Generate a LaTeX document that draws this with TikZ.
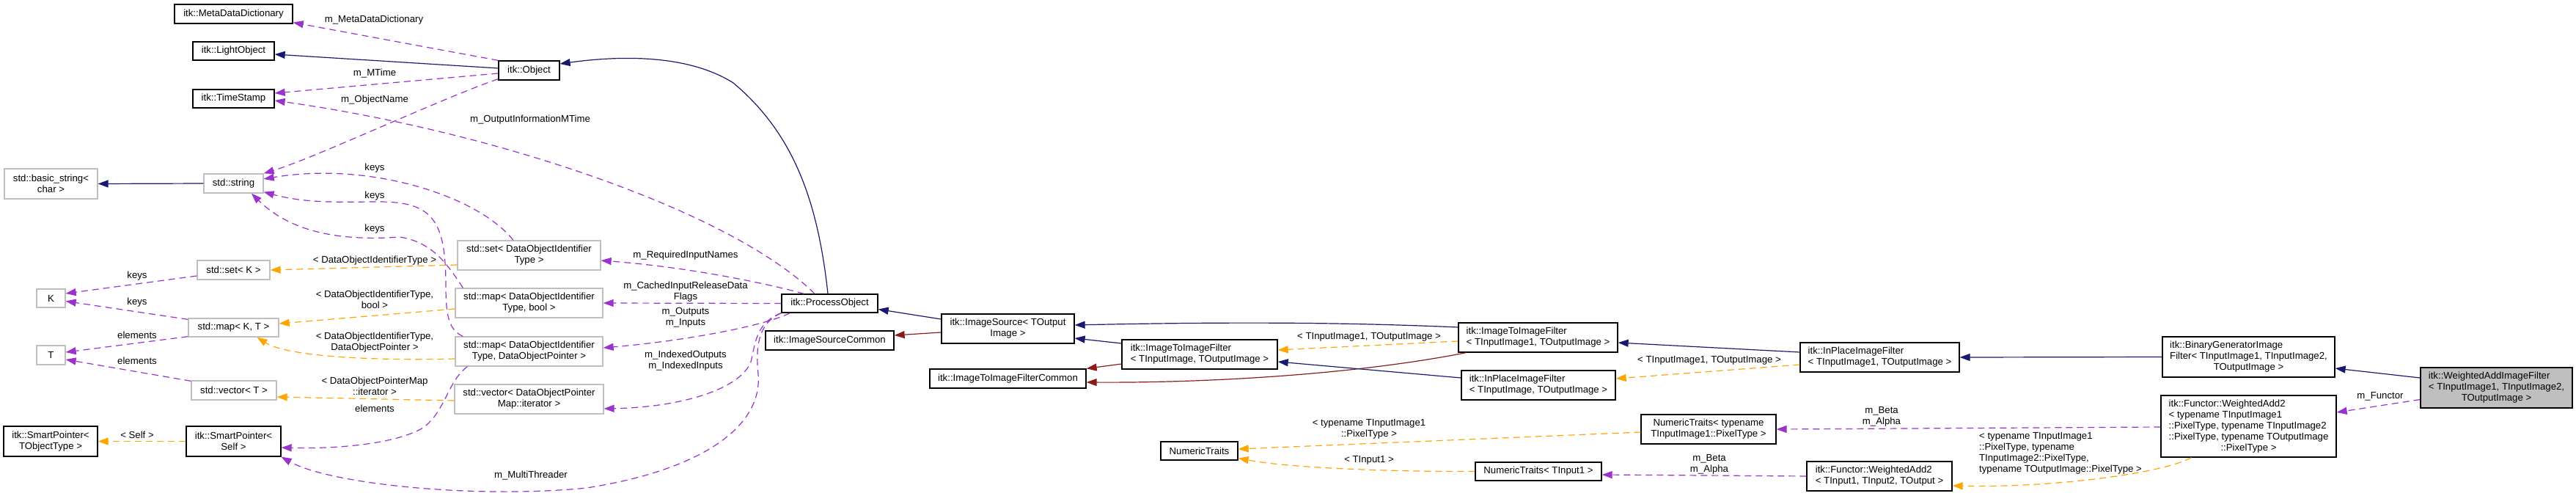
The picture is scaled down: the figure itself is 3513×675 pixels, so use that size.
\documentclass[tikz,border=0pt]{standalone}
\usepackage{fontspec}
\setmainfont{Liberation Sans}
\usetikzlibrary{arrows.meta}
\definecolor{navy}{HTML}{191970}
\definecolor{orch}{HTML}{9A32CD}
\definecolor{orng}{HTML}{FFA500}
\definecolor{fbrick}{HTML}{8B1A1A}
\definecolor{grayb}{HTML}{BFBFBF}
\newcommand{\dgfont}{\fontsize{6.6}{7.5}\selectfont}
\newcommand{\lc}[1]{\multicolumn{1}{@{}c@{}}{#1}}
\tikzset{
  box/.style={draw=black, line width=0.65pt, fill=white, inner sep=0pt, font=\dgfont, align=center},
  gbox/.style={box, draw=grayb},
  lbox/.style={box, align=left},
  tip/.style={-{Triangle[length=7pt,width=5pt]}},
  inh/.style={draw=navy, line width=0.6pt, tip},
  prv/.style={draw=fbrick, line width=0.6pt, tip},
  mem/.style={draw=orch, line width=0.6pt, dash pattern=on 4.5pt off 3pt, tip},
  tpl/.style={draw=orng, line width=0.6pt, dash pattern=on 4.5pt off 3pt, tip},
  lbl/.style={font=\dgfont, inner sep=0pt, align=center}
}
\begin{document}
\begin{tikzpicture}[x=0.5pt,y=-0.5pt]
\useasboundingbox (0,0) rectangle (3513,675);
% ---------- nodes ----------
\node[box, minimum width=80.5pt, minimum height=13pt] (mdd) at (318.5,19) {itk::MetaDataDictionary};
\node[box, minimum width=55.5pt, minimum height=12.5pt] (lobj) at (318.5,69.5) {itk::LightObject};
\node[box, minimum width=55.5pt, minimum height=12.5pt] (ts) at (318.5,134.5) {itk::TimeStamp};
\node[box, minimum width=41.5pt, minimum height=13pt] (obj) at (721.5,96) {itk::Object};
\node[gbox, minimum width=63.5pt, minimum height=20.5pt] (bstr) at (69.5,250.5) {std::basic\_string\textless\\char \textgreater};
\node[gbox, minimum width=40.5pt, minimum height=13pt] (str) at (318.5,250) {std::string};
\node[gbox, minimum width=49.5pt, minimum height=13pt] (setK) at (318.5,368) {std::set\textless{} K \textgreater};
\node[gbox, minimum width=19.5pt, minimum height=12.5pt] (K) at (69.5,406.5) {K};
\node[gbox, minimum width=61.5pt, minimum height=12.5pt] (mapKT) at (318.5,446.5) {std::map\textless{} K, T \textgreater};
\node[gbox, minimum width=19.5pt, minimum height=13pt] (T) at (69.5,484) {T};
\node[gbox, minimum width=58pt, minimum height=13pt] (vecT) at (319,532) {std::vector\textless{} T \textgreater};
\node[box, minimum width=64pt, minimum height=20.5pt] (spT) at (69,601.5) {itk::SmartPointer\textless\\TObjectType \textgreater};
\node[box, minimum width=64.5pt, minimum height=20.5pt] (spS) at (318.5,601.5) {itk::SmartPointer\textless\\Self \textgreater};
\node[gbox, minimum width=97.5pt, minimum height=20pt] (setD) at (721.5,348) {std::set\textless{} DataObjectIdentifier\\Type \textgreater};
\node[gbox, minimum width=100.5pt, minimum height=20pt] (mapDb) at (721.5,413) {std::map\textless{} DataObjectIdentifier\\Type, bool \textgreater};
\node[gbox, minimum width=100.5pt, minimum height=20pt] (mapDP) at (721.5,479) {std::map\textless{} DataObjectIdentifier\\Type, DataObjectPointer \textgreater};
\node[gbox, minimum width=101.5pt, minimum height=20pt] (vecD) at (721.5,544) {std::vector\textless{} DataObjectPointer\\Map::iterator \textgreater};
\node[box, minimum width=65.5pt, minimum height=12.5pt] (po) at (1131.5,413.5) {itk::ProcessObject};
\node[box, minimum width=87.5pt, minimum height=13pt] (isc) at (1131.5,464) {itk::ImageSourceCommon};
\node[box, minimum width=90.5pt, minimum height=20pt] (is) at (1374.5,448) {itk::ImageSource\textless{} TOutput\\Image \textgreater};
\node[box, minimum width=106.5pt, minimum height=13pt] (itifc) at (1374.5,516) {itk::ImageToImageFilterCommon};
\node[lbox, minimum width=106pt, minimum height=20pt] (itif) at (1636,483) {itk::ImageToImageFilter\\\textless{} TInputImage, TOutputImage \textgreater};
\node[lbox, minimum width=108.5pt, minimum height=20pt] (itif1) at (2097.5,460) {itk::ImageToImageFilter\\\textless{} TInputImage1, TOutputImage \textgreater};
\node[lbox, minimum width=105pt, minimum height=20pt] (ipf) at (2098,525) {itk::InPlaceImageFilter\\\textless{} TInputImage, TOutputImage \textgreater};
\node[lbox, minimum width=108.5pt, minimum height=20pt] (ipf1) at (2563.5,487) {itk::InPlaceImageFilter\\\textless{} TInputImage1, TOutputImage \textgreater};
\node[box, minimum width=52.5pt, minimum height=12.5pt] (nt) at (1635.5,614.5) {NumericTraits};
\node[box, minimum width=92pt, minimum height=20pt] (ntp) at (2330,585) {NumericTraits\textless{} typename\\TInputImage1::PixelType \textgreater};
\node[box, minimum width=86pt, minimum height=12.5pt] (nti) at (2098,642.5) {NumericTraits\textless{} TInput1 \textgreater};
\node[lbox, minimum width=99pt, minimum height=20pt] (wa2i) at (2563,649) {itk::Functor::WeightedAdd2\\\textless{} TInput1, TInput2, TOutput \textgreater};
\node[box, minimum width=117.5pt, minimum height=27.5pt] (bgif) at (3066.5,486.5) {\begin{tabular}{@{}l@{}}itk::BinaryGeneratorImage\\Filter\textless{} TInputImage1, TInputImage2,\\\lc{TOutputImage \textgreater}\end{tabular}};
\node[box, minimum width=119.5pt, minimum height=42pt] (fwa2) at (3066.5,581) {\begin{tabular}{@{}l@{}}itk::Functor::WeightedAdd2\\\textless{} typename TInputImage1\\::PixelType, typename TInputImage2\\::PixelType, typename TOutputImage\\\lc{::PixelType \textgreater}\end{tabular}};
\node[box, fill=grayb, minimum width=103.5pt, minimum height=27.5pt] (waif) at (3404.5,528.5) {\begin{tabular}{@{}l@{}}itk::WeightedAddImageFilter\\\textless{} TInputImage1, TInputImage2,\\\lc{TOutputImage \textgreater}\end{tabular}};
% ---------- edges: top-left ----------
\draw[mem] (obj.north west) -- ([yshift=1pt]mdd.south east);
\draw[inh] ([yshift=1.5pt]obj.west) -- ([yshift=-2.25pt]lobj.east);
\draw[mem] ([yshift=-2pt]obj.west) -- ([yshift=3.75pt]ts.east);
\draw[mem] ([yshift=1pt]obj.south west) .. controls (600,135) and (430,215) .. (str.north east);
\draw[mem] ([xshift=-10.25pt]po.north) .. controls (1000,290) and (680,180) .. ([yshift=-1.25pt]ts.east);
\draw[inh] ([xshift=-1.25pt]po.north) .. controls (1115,270) and (1080,180) .. (1000,113) .. controls (940,75) and (850,75) .. ([yshift=4.5pt]obj.east);
\draw[inh] (str.west) -- (bstr.east);
\draw[mem] ([xshift=-10.75pt]setD.north) .. controls (650,265) and (500,220) .. ([yshift=3pt]str.east);
\draw[mem] ([xshift=5.5pt]mapDP.north west) .. controls (612,450) and (608,430) .. (608,390) .. controls (608,300) and (590,275) .. (517,275) .. controls (470,275) and (420,278) .. ([yshift=1pt]str.south east);
\draw[mem] ([xshift=5.5pt]mapDb.north west) .. controls (610,360) and (590,330) .. (545,323) .. controls (450,330) and (390,310) .. ([xshift=12.25pt]str.south);
% ---------- std containers ----------
\draw[tpl] ([yshift=-6.5pt]setD.west) -- (setK.east);
\draw[tpl] ([yshift=-4pt]mapDb.west) -- ([yshift=2.75pt]mapKT.east);
\draw[tpl] ([yshift=-5pt]mapDP.west) .. controls (500,492) and (390,485) .. ([xshift=16pt]mapKT.south);
\draw[tpl] ([yshift=-1pt]vecD.west) -- ([yshift=-4.5pt]vecT.east);
\draw[tpl] (spS.west) -- (spT.east);
\draw[mem] ([yshift=-4pt]setK.west) -- ([yshift=3.25pt]K.east);
\draw[mem] ([yshift=-1pt]mapKT.north west) -- ([yshift=-2pt]K.east);
\draw[mem] ([yshift=0.5pt]mapKT.south west) -- ([yshift=2pt]T.east);
\draw[mem] ([yshift=-0.5pt]vecT.north west) -- ([yshift=-3pt]T.east);
\draw[mem] ([xshift=8.5pt]mapDP.south west) .. controls (610,520) and (608,560) .. (577,583) .. controls (540,605) and (460,612) .. ([yshift=-4.25pt]spS.east);
% ---------- ProcessObject members ----------
\draw[mem] ([xshift=15.5pt]po.north west) .. controls (1060,390) and (950,365) .. ([yshift=-3.5pt]setD.east);
\draw[mem] (po.west) -- (mapDb.east);
\draw[mem] ([xshift=6pt]po.south west) .. controls (1040,445) and (930,465) .. ([yshift=2.5pt]mapDP.east);
\draw[mem] (po.south west) .. controls (1030,440) and (1030,470) .. (1024,493) .. controls (1010,530) and (930,555) .. ([yshift=-6.5pt]vecD.east);
\draw[mem] (po.south west) .. controls (1035,440) and (1030,470) .. (1034,510) .. controls (1040,580) and (960,640) .. (800,665) .. controls (650,680) and (450,660) .. (spS.south east);
% ---------- image filter hierarchy ----------
\draw[inh] ([yshift=6.5pt]is.west) -- ([yshift=-4pt]po.east);
\draw[prv] ([yshift=-2.5pt]is.west) -- ([yshift=3.5pt]isc.east);
\draw[inh] ([yshift=7.5pt]itif.west) -- ([yshift=-6.5pt]is.east);
\draw[prv] ([yshift=-6.5pt]itif.west) -- (itifc.north east);
\draw[inh] ([yshift=7pt]itif1.west) .. controls (1850,440) and (1700,438) .. ([yshift=2.5pt]is.east);
\draw[prv] ([xshift=5.5pt]itif1.south west) .. controls (1850,510) and (1650,522) .. ([yshift=-2.5pt]itifc.east);
\draw[tpl] ([yshift=-2.5pt]itif1.west) -- ([yshift=3pt]itif.east);
\draw[inh] ([yshift=5pt]ipf.west) -- ([yshift=-5pt]itif.east);
\draw[inh] ([yshift=3.5pt]ipf1.west) -- ([yshift=-3.5pt]itif1.east);
\draw[tpl] ([yshift=-5pt]ipf1.west) -- ([yshift=4.5pt]ipf.east);
\draw[inh] (bgif.west) -- (ipf1.east);
\draw[inh] ([yshift=6.75pt]waif.west) -- ([yshift=-7.75pt]bgif.east);
\draw[mem] ([yshift=-8pt]waif.west) -- ([yshift=9.5pt]fwa2.east);
\draw[mem] ([yshift=-0.5pt]fwa2.west) -- (ntp.east);
\draw[tpl] ([xshift=21pt]fwa2.south west) .. controls (2950,645) and (2800,665) .. ([yshift=-6.5pt]wa2i.east);
\draw[mem] (wa2i.west) -- ([yshift=-2.25pt]nti.east);
\draw[tpl] ([yshift=-2pt]ntp.west) -- ([yshift=1.25pt]nt.east);
\draw[tpl] (nti.west) .. controls (1900,643) and (1760,638) .. ([yshift=-5pt]nt.east);
% ---------- labels ----------
\node[lbl] (l1) at (510,27) {m\_MetaDataDictionary};
\node[lbl] (l2) at (511,100) {m\_MTime};
\node[lbl] (l3) at (511,136) {m\_ObjectName};
\node[lbl] (l4) at (723,163) {m\_OutputInformationMTime};
\node[lbl] (l5) at (511,229) {keys};
\node[lbl] (l6) at (511,267) {keys};
\node[lbl] (l7) at (511,312) {keys};
\node[lbl] (l8) at (511,355) {\textless{} DataObjectIdentifierType \textgreater};
\node[lbl] (l9) at (511,408.5) {\textless{} DataObjectIdentifierType,\\bool \textgreater};
\node[lbl] (l10) at (511,466.5) {\textless{} DataObjectIdentifierType,\\DataObjectPointer \textgreater};
\node[lbl] (l11) at (511,526.5) {\textless{} DataObjectPointerMap\\::iterator \textgreater};
\node[lbl] (l12) at (511,557) {elements};
\node[lbl] (l13) at (187,376) {keys};
\node[lbl] (l14) at (187,412) {keys};
\node[lbl] (l15) at (187,457) {elements};
\node[lbl] (l16) at (187,492) {elements};
\node[lbl] (l17) at (187,593) {\textless{} Self \textgreater};
\node[lbl] (l18) at (935,348) {m\_RequiredInputNames};
\node[lbl] (l19) at (935,397.5) {m\_CachedInputReleaseData\\Flags};
\node[lbl] (l20) at (935,432.5) {m\_Outputs\\m\_Inputs};
\node[lbl] (l21) at (935,491.5) {m\_IndexedOutputs\\m\_IndexedInputs};
\node[lbl] (l22) at (724,648) {m\_MultiThreader};
\node[lbl] (l23) at (1867,459) {\textless{} TInputImage1, TOutputImage \textgreater};
\node[lbl] (l24) at (2331,491) {\textless{} TInputImage1, TOutputImage \textgreater};
\node[lbl] (l25) at (1867,584.5) {\textless{} typename TInputImage1\\::PixelType \textgreater};
\node[lbl] (l26) at (1867,627) {\textless{} TInput1 \textgreater};
\node[lbl] (l27) at (2566,567.5) {m\_Beta\\m\_Alpha};
\node[lbl] (l28) at (2331,632.5) {m\_Beta\\m\_Alpha};
\node[lbl, align=left] (l29) at (2810,617.5) {\textless{} typename TInputImage1\\::PixelType, typename\\TInputImage2::PixelType,\\typename TOutputImage::PixelType \textgreater};
\node[lbl] (l30) at (3246,540) {m\_Functor};
\end{tikzpicture}
\end{document}
